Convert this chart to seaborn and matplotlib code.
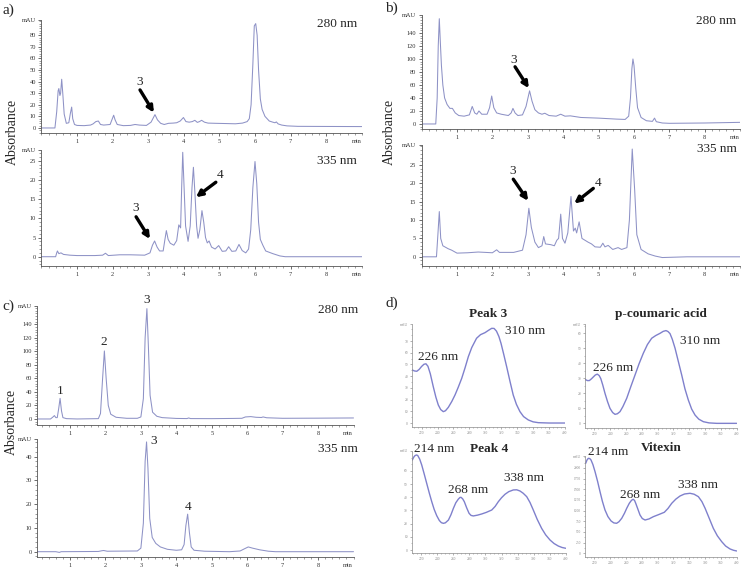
import matplotlib
matplotlib.use("Agg")
import matplotlib.pyplot as plt
import seaborn as sns
import numpy as np
import pandas as pd
from matplotlib.ticker import MultipleLocator

# ---------------- data ----------------
# chromatograms: (retention time [min], absorbance [mAU])
a280 = [(0.0,0),(0.38,0),(0.43,14),(0.47,32),(0.49,34),(0.52,28),(0.54,30),(0.57,42),(0.60,30),(0.64,12),
        (0.70,4),(0.77,4.5),(0.81,12),(0.85,18),(0.88,8),(0.93,3),(1.0,2.2),(1.2,2),(1.38,2.5),(1.45,3.5),
        (1.53,5.5),(1.6,6),(1.66,3),(1.75,2.5),(1.93,3),(1.98,7),(2.03,11),(2.07,7),(2.13,3),(2.3,2),
        (2.5,2.2),(2.63,3),(2.75,2.5),(2.95,2.2),(3.08,5),(3.19,11.5),(3.26,7),(3.35,4),(3.45,3),(3.57,4),
        (3.7,4.2),(3.8,4.5),(3.9,6),(3.99,9),(4.06,5.5),(4.15,5),(4.24,5.5),(4.31,6.6),(4.38,4.8),(4.44,5.5),
        (4.5,6.6),(4.58,5),(4.68,4.2),(4.9,4),(5.2,3.8),(5.45,3.6),(5.65,4.2),(5.78,5.5),(5.84,8),(5.89,20),
        (5.94,55),(5.98,88),(6.02,90),(6.06,80),(6.1,50),(6.15,25),(6.2,16),(6.28,10),(6.4,6),(6.5,5),
        (6.56,4.5),(6.6,5.2),(6.65,3.5),(6.75,2.5),(6.9,1.8),(7.2,1.4),(8.0,1.3),(9.0,1.2)]
a335 = [(0.0,0),(0.4,0),(0.43,1.0),(0.45,1.5),(0.49,0.8),(0.55,1.0),(0.62,0.6),(0.8,0.4),(1.0,0.3),(1.5,0.3),
        (1.72,0.4),(1.8,0.9),(1.88,0.3),(2.2,0.5),(2.5,0.5),(2.9,0.4),(3.05,1.0),(3.12,3.0),(3.18,4.1),(3.25,2.5),
        (3.32,1.5),(3.42,1.5),(3.47,4.5),(3.51,6.8),(3.56,4.5),(3.62,3.5),(3.72,3.0),(3.8,4.2),(3.86,8.3),(3.91,7.5),
        (3.94,18),(3.97,27.2),(4.0,20),(4.05,8),(4.12,4),(4.18,8),(4.23,18),(4.27,23.3),(4.31,17),(4.36,8),
        (4.4,4.8),(4.45,7),(4.51,12),(4.56,9),(4.61,5),(4.66,3.6),(4.71,4.1),(4.78,2.5),(4.88,2.0),(4.98,2.9),
        (5.08,1.4),(5.18,1.5),(5.26,2.6),(5.35,1.4),(5.46,1.5),(5.55,3.2),(5.64,1.6),(5.74,1.0),(5.82,2.0),(5.88,7),
        (5.94,18),(6.0,24.8),(6.05,19),(6.1,9),(6.15,4.5),(6.22,3),(6.3,1.5),(6.5,0.8),(6.7,0.2),(6.85,0),(9.0,0)]
b280 = [(0.0,0),(0.4,0),(0.44,40),(0.47,120),(0.5,162),(0.53,125),(0.56,90),(0.6,60),(0.65,40),(0.72,30),
        (0.8,24),(0.87,24),(0.95,17),(1.05,13),(1.2,12),(1.35,14),(1.43,27),(1.5,17),(1.56,15),(1.62,20),
        (1.7,15),(1.85,15),(1.92,25),(1.98,43),(2.04,25),(2.12,17),(2.25,15),(2.45,13),(2.53,17),(2.58,24),
        (2.64,17),(2.72,13),(2.85,14),(2.95,27),(3.05,51),(3.12,35),(3.2,22),(3.3,17),(3.4,15),(3.48,16.5),
        (3.6,13),(3.8,12),(3.93,15),(4.05,12),(4.2,12.5),(4.5,10),(5.0,9),(5.5,7.5),(5.75,7),(5.85,12),
        (5.9,40),(5.94,85),(5.97,100),(6.0,90),(6.05,55),(6.1,25),(6.2,10),(6.35,5),(6.52,4),(6.58,9),
        (6.63,3.5),(6.8,1.5),(7.0,1),(8.0,1.5),(9.0,2.5)]
b335 = [(0.0,0),(0.42,0),(0.46,6),(0.5,12.3),(0.54,5),(0.6,3),(0.75,2.2),(0.85,1.8),(1.0,1),(1.3,1.1),
        (1.6,1.3),(2.0,1.1),(2.12,1.9),(2.2,1.2),(2.6,1.2),(2.85,1.8),(2.95,6),(3.03,13.2),(3.1,8),(3.2,4),
        (3.3,2.5),(3.4,3),(3.45,5.5),(3.5,3.5),(3.65,3.3),(3.75,3),(3.82,4.5),(3.87,5),(3.93,11.6),(3.98,5),
        (4.05,3.7),(4.13,6.5),(4.22,16.4),(4.29,7),(4.34,7.8),(4.38,6.5),(4.45,9.5),(4.53,5),(4.7,4),(4.8,3.5),
        (4.9,2.7),(5.05,2.6),(5.12,3.7),(5.18,2.7),(5.27,3.1),(5.4,2),(5.55,2.5),(5.65,2),(5.8,2.5),(5.87,10),
        (5.95,29.3),(6.02,18),(6.08,6),(6.2,2),(6.4,0.8),(6.6,0.2),(6.8,-0.2),(7.5,0),(9.0,0)]
c280 = [(0.08,0),(0.45,0),(0.52,3),(0.56,5),(0.6,2),(0.64,2),(0.68,15),(0.72,30.5),(0.76,12),(0.8,2),
        (0.9,0.5),(1.2,0),(1.8,0.5),(1.86,8),(1.92,60),(1.97,100.5),(2.02,60),(2.08,20),(2.15,7),(2.3,2.5),
        (2.6,1),(2.9,1),(3.0,3),(3.07,30),(3.12,120),(3.17,163),(3.21,110),(3.26,35),(3.33,10),(3.45,4),
        (3.6,2),(4.0,0.8),(4.3,0.6),(4.35,1.5),(4.4,0.6),(5.0,0.5),(5.6,0.8),(5.85,1),(5.95,3),(6.1,3.5),
        (6.25,2.5),(6.4,2.2),(6.45,3),(6.55,1.8),(7.0,1),(8.0,1.2),(9.0,1.5)]
c335 = [(0.08,0),(0.6,0),(0.7,-0.3),(0.75,0),(1.8,0.1),(1.9,0.4),(1.95,0.5),(2.05,0.2),(2.9,0.3),(3.0,1.5),
        (3.07,12),(3.12,38),(3.16,46.2),(3.2,35),(3.25,14),(3.32,6),(3.42,3.5),(3.55,2),(3.75,1),(4.0,0.6),
        (4.15,0.8),(4.22,3),(4.27,11),(4.32,15.8),(4.37,8),(4.42,2),(4.5,0.6),(4.8,0.2),(5.5,0),(5.8,0.3),
        (5.92,1.2),(6.03,2),(6.15,1.5),(6.35,0.8),(6.6,0.2),(6.8,0),(9.0,0)]

# UV spectra: (wavelength [nm], absorbance)
spec_peak3 = [(208.4,45.3),(211,44.5),(214,44.2),(217,45.8),(220,48.3),(223,50.2),(225.5,50.6),(228,48.5),
              (231,42),(234.7,31),(238,22),(241,15.4),(244,11.5),(247.3,9.7),(250,10.5),(253.6,13.4),
              (258,18.5),(262,24),(266,30.5),(270.4,38.2),(274.5,47),(278.7,56.7),(283,64.5),(289,72.4),
              (294,75.5),(299.6,77.2),(304,79.2),(308,80.9),(311,80.8),(314,78.5),(317,74),(319.7,68.1),
              (323,59),(326.8,48.1),(331,35.5),(335,24),(339,16),(343.5,9.7),(348,5.5),(354,2.6),
              (360,1.0),(366.5,0.3),(380,0),(400,0)]
spec_pcoum = [(208,29.3),(211,28.5),(213.5,28.5),(216,29.6),(218.5,30.9),(221,32.2),(223.6,32.8),(226,31.8),
              (228,29.8),(230.5,25.5),(233.3,20),(236.5,14.5),(239.6,10),(243,7.2),(246,6),(249,6.4),
              (252.3,7.8),(256,11.2),(260.8,16.7),(266,24.5),(271.3,32.2),(276.5,39.8),(281.8,46.7),(287,52.5),
              (292.4,56.7),(297.5,58.5),(303,60),(307,61.3),(310.5,61.8),(313,61.2),(315.6,59.8),(318.5,56),
              (322,50),(326,41.5),(330.4,32.2),(334.5,23),(338.8,15.5),(343,9.5),(347.3,5.5),(352,2.8),
              (357.8,1.1),(365,0.3),(374.7,0),(400,0)]
spec_peak4 = [(208.8,68.2),(210.5,70.3),(212.1,71.5),(214,72),(215.5,71.6),(218,68.8),(220.5,64.4),(223.5,57.8),
              (226.7,50.5),(230,43),(233,36.6),(236,30.8),(239.2,26),(242.5,22.3),(245,20.7),(247.5,20.2),
              (250,20.6),(253.8,22.7),(257,26.8),(260,31.6),(263,35.8),(266.2,38.6),(268.2,39.8),(269.5,39.9),
              (271.5,38.8),(273.6,36.6),(276.5,32),(279.5,27.8),(282,26.2),(284.8,25.8),(290,26.4),(295.3,27.3),
              (301,28.5),(307.8,30.3),(312,33),(316,36.6),(320,39.6),(324.3,42.2),(329,44.2),(334.7,45.5),
              (339,45.6),(343,44.7),(347,43),(351.4,40.4),(355.5,36),(359.6,30.3),(364.5,23.2),(370,16.4),
              (375,11.5),(380.4,7.6),(385.5,4.9),(390.8,3),(395.5,1.9),(400,1.3)]
spec_vitex = [(208.9,2109),(210.5,2185),(212.2,2226),(214,2220),(215.6,2187),(218,2080),(220.7,1913),(224,1680),
              (227,1444),(230,1220),(233.3,1015),(237,860),(241,757),(244.5,712),(248,703),(251,740),
              (254.5,820),(258,940),(260.8,1055),(264,1170),(266.2,1226),(268,1258),(269.2,1265),(270.8,1235),
              (272.2,1172),(275,1030),(277.6,898),(280.5,815),(284,780),(289,805),(294.5,858),(301,905),
              (308.4,961),(313,1050),(317.8,1172),(323,1270),(328.3,1343),(334,1390),(340.9,1406),(346,1385),
              (351.5,1327),(356,1210),(360,1055),(365,830),(370.4,586),(375.5,410),(381,273),(386,170),
              (391.6,101),(396,70),(400,54)]

chrom_xticks = [1, 2, 3, 4, 5, 6, 7, 8]
spec_xticks = [220, 240, 260, 280, 300, 320, 340, 360, 380, 400]

# ---------------- styling ----------------
sns.set_theme(style="ticks")
plt.rcParams['font.family'] = ['Liberation Serif', 'DejaVu Serif']
plt.rcParams['axes.linewidth'] = 0.6

W, H = 747, 570
fig = plt.figure(figsize=(W / 100, H / 100), dpi=100)
fig.patch.set_facecolor('white')

CHROM_COLOR = '#8e92c6'
SPEC_COLOR = '#7f80cc'


def add_ax(l, t, r, b):
    ax = fig.add_axes([l / W, 1 - b / H, (r - l) / W, (b - t) / H])
    ax.set_facecolor('none')
    for s in ('top', 'right'):
        ax.spines[s].set_visible(False)
    for s in ('left', 'bottom'):
        ax.spines[s].set_color('#555555')
        ax.spines[s].set_linewidth(0.6)
    return ax


def draw_line(ax, pairs, color, lw):
    df = pd.DataFrame(pairs, columns=['x', 'y'])
    sns.lineplot(data=df, x='x', y='y', ax=ax, color=color, lw=lw, estimator=None, sort=False)
    ax.set_xlabel('')
    ax.set_ylabel('')


def chrom(box, pairs, xlim, ylim, ystep):
    ax = add_ax(*box)
    draw_line(ax, pairs, CHROM_COLOR, 0.75)
    ax.set_xlim(*xlim)
    ax.set_ylim(*ylim)
    xt = chrom_xticks + [8.85]
    ax.set_xticks(xt)
    ax.set_xticklabels([str(v) for v in chrom_xticks] + ['min'])
    yt = list(np.arange(0, ylim[1] - ystep * 0.5, ystep))
    yt_labels = ['%g' % v for v in yt]
    ax.set_yticks(yt + [ylim[1]])
    ax.set_yticklabels(yt_labels + ['mAU'])
    ax.xaxis.set_minor_locator(MultipleLocator(0.2))
    ax.yaxis.set_minor_locator(MultipleLocator(ystep / 5))
    ax.tick_params(which='major', length=2.5, width=0.5, colors='#333333', labelsize=4.6, pad=1.5)
    ax.tick_params(which='minor', length=1.2, width=0.4, colors='#555555')
    ax.xaxis.get_major_ticks()[-1].tick1line.set_visible(False)
    return ax


def spec(box, pairs, ylim, ystep, title, title_y, labels):
    ax = add_ax(*box)
    draw_line(ax, pairs, SPEC_COLOR, 1.0)
    ax.set_xlim(208, 400)
    ax.set_ylim(*ylim)
    ax.set_xticks(spec_xticks)
    ax.set_xticklabels([str(v) for v in spec_xticks])
    yt = list(np.arange(0, ylim[1] - ystep * 0.5, ystep))
    ax.set_yticks(yt + [ylim[1]])
    ax.set_yticklabels(['%g' % v for v in yt] + ['mAU'])
    ax.xaxis.set_minor_locator(MultipleLocator(5))
    ax.yaxis.set_minor_locator(MultipleLocator(ystep / 2))
    ax.tick_params(which='major', length=1.6, width=0.4, colors='#777777', labelsize=2.6, pad=1.2,
                   labelcolor='#888888')
    ax.tick_params(which='minor', length=0.9, width=0.4, colors='#888888')
    for s in ('left', 'bottom'):
        ax.spines[s].set_color('#8a8a8a')
        ax.spines[s].set_linewidth(0.5)
    ax.text(0.5, title_y, title, transform=ax.transAxes, ha='center', va='center',
            fontsize=9.5, fontweight='bold')
    for (x, y, s) in labels:
        ax.text(x, y, s, ha='left', va='center', fontsize=9.5, clip_on=False)
    return ax


def arrow(ax, tail, head):
    ax.annotate('', xy=head, xytext=tail,
                arrowprops=dict(arrowstyle='-|>', color='black', lw=2.4, mutation_scale=9,
                                shrinkA=0, shrinkB=0), annotation_clip=False)


LBL = 9.5

# ---- panel a ----
ax = chrom((41.4, 20, 361.8, 133.3), a280, (0, 9), (-4.6, 93.1), 10)
ax.text(8.30, 89.7, '280 nm', ha='center', va='center', fontsize=LBL)
ax.text(2.77, 40, '3', ha='center', va='center', fontsize=LBL)
arrow(ax, (2.77, 32.8), (3.16, 13.2))

ax = chrom((41.4, 150, 361.8, 266), a335, (0, 9), (-2.42, 27.8), 5)
ax.text(8.30, 24.9, '335 nm', ha='center', va='center', fontsize=LBL)
ax.text(2.64, 12.6, '3', ha='center', va='center', fontsize=LBL)
arrow(ax, (2.66, 10.4), (3.05, 4.6))
ax.text(5.03, 21.4, '4', ha='center', va='center', fontsize=LBL)
arrow(ax, (4.90, 19.4), (4.34, 15.5))

# ---- panel b ----
ax = chrom((421.6, 15, 740.2, 129.3), b280, (0, 9), (-8.2, 167.7), 20)
ax.text(8.32, 157.7, '280 nm', ha='center', va='center', fontsize=LBL)
ax.text(2.61, 99, '3', ha='center', va='center', fontsize=LBL)
arrow(ax, (2.64, 88), (3.03, 55))

ax = chrom((421.6, 145, 740.2, 266), b335, (0, 9), (-2.5, 30.4), 5)
ax.text(8.34, 29.3, '335 nm', ha='center', va='center', fontsize=LBL)
ax.text(2.58, 23.2, '3', ha='center', va='center', fontsize=LBL)
arrow(ax, (2.59, 21.1), (3.01, 15.2))
ax.text(4.98, 20, '4', ha='center', va='center', fontsize=LBL)
arrow(ax, (4.85, 18.6), (4.31, 14.5))

# ---- panel c ----
ax = chrom((37.4, 306, 353.5, 425), c280, (0.08, 9.0), (-8.9, 166.9), 20)
ax.text(8.56, 161, '280 nm', ha='center', va='center', fontsize=LBL)
ax.text(0.73, 42, '1', ha='center', va='center', fontsize=LBL)
ax.text(1.95, 113, '2', ha='center', va='center', fontsize=LBL)
ax.text(3.16, 176, '3', ha='center', va='center', fontsize=LBL, clip_on=False)

ax = chrom((37.4, 439.3, 353.5, 557.3), c335, (0.08, 9.0), (-2.36, 47.3), 10)
ax.text(8.56, 43.2, '335 nm', ha='center', va='center', fontsize=LBL)
ax.text(3.37, 46.4, '3', ha='center', va='center', fontsize=LBL)
ax.text(4.34, 18.6, '4', ha='center', va='center', fontsize=LBL)

# ---- panel d ----
spec((412, 324, 565, 427), spec_peak3, (-3.4, 84.6), 10, 'Peak 3', 1.10,
     [(215.5, 56, '226 nm'), (324.7, 78.6, '310 nm')])
spec((585, 324, 736.7, 427.7), spec_pcoum, (-2.9, 66.2), 10, 'p-coumaric acid', 1.10,
     [(218, 37.2, '226 nm'), (328.3, 54.9, '310 nm')])
spec((411.7, 451, 565.7, 553.3), spec_peak4, (-2.5, 75), 10, 'Peak 4', 1.02,
     [(210.9, 76.5, '214 nm'), (253.3, 45.8, '268 nm'), (323, 54.2, '338 nm')])
spec((585, 456, 736.7, 556.7), spec_vitex, (-80, 2280), 250, 'Vitexin', 1.08,
     [(211.8, 2374, '214 nm'), (252.3, 1366, '268 nm'), (325.7, 1600, '338 nm')])

# ---- figure-level labels ----
def ftext(x, y, s, **kw):
    fig.text(x / W, 1 - y / H, s, **kw)

ftext(3, 10, 'a)', fontsize=11, ha='left', va='center')
ftext(385, 8, 'b)', fontsize=11, ha='left', va='center')
ftext(2, 306, 'c)', fontsize=11, ha='left', va='center')
ftext(385, 303, 'd)', fontsize=11, ha='left', va='center')
ftext(12, 132, 'Absorbance', fontsize=10, rotation=90, ha='center', va='center')
ftext(389, 132, 'Absorbance', fontsize=10, rotation=90, ha='center', va='center')
ftext(11, 422, 'Absorbance', fontsize=10, rotation=90, ha='center', va='center')

fig.savefig('out.png', dpi=100)
